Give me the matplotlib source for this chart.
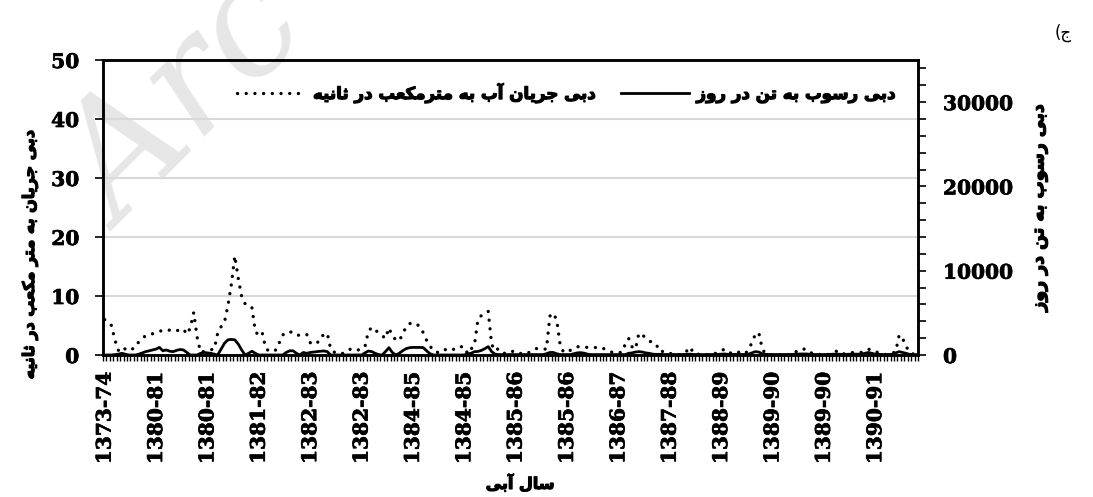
import matplotlib
matplotlib.use('Agg')
import matplotlib.pyplot as plt
import matplotlib.patheffects as pe
from matplotlib.ticker import MultipleLocator, FixedLocator


# flow (m3/s), left axis - one value per sample
flow = [
    6.0, 5.5, 5.0, 2.5, 0.8, 1.4, 1.0, 0.7, 1.0, 1.3,
    2.3, 2.8, 3.3, 3.5, 3.6, 3.8, 4.0, 4.2, 4.3, 4.2,
    4.0, 4.1, 4.3, 4.4, 3.5, 4.6, 7.2, 3.0, 0.5, 0.6,
    0.8, 0.9, 1.0, 3.7, 4.8, 5.6, 8.4, 12.0, 16.8, 13.0,
    9.9, 8.7, 8.6, 8.0, 4.0, 3.3, 3.8, 1.2, 0.6, 0.7,
    0.85, 2.1, 3.4, 3.8, 4.0, 3.7, 3.3, 3.4, 3.5, 3.5,
    2.1, 1.9, 1.9, 3.1, 3.4, 3.7, 1.0, 0.5, 0.2, 0.25,
    0.3, 0.7, 1.1, 1.0, 0.85, 1.1, 1.4, 4.0, 4.7, 4.2,
    3.8, 3.3, 2.8, 4.6, 3.2, 2.6, 2.4, 3.5, 4.8, 5.3,
    5.5, 5.2, 4.9, 3.8, 2.5, 1.5, 0.8, 0.4, 0.7, 1.0,
    0.8, 0.7, 1.0, 1.4, 1.4, 1.4, 0.2, 1.0, 1.8, 6.0,
    6.7, 7.0, 7.4, 1.8, 0.7, 1.1, 0.6, 0.2, 0.4, 0.6,
    0.7, 0.4, 0.1, 0.3, 0.45, 0.8, 1.1, 1.0, 1.0, 1.0,
    6.6, 7.1, 5.9, 1.75, 0.45, 0.6, 0.8, 1.1, 1.4, 1.4,
    1.3, 1.3, 1.3, 1.25, 1.3, 1.3, 1.0, 0.7, 0.5, 0.3,
    0.4, 0.45, 1.8, 2.8, 1.4, 1.0, 3.7, 3.4, 2.9, 2.4,
    2.1, 1.9, 0.6, 0.6, 0.6, 0.3, 0.1, 0.05, 0.0, 0.3,
    0.7, 1.35, 0.2, 0.15, 0.1, 0.05, 0.0, 0.0, 0.2, 0.45,
    0.7, 1.0, 0.5, 0.3, 0.6, 0.5, 0.3, 0.2, 0.9, 2.1,
    3.5, 3.8, 1.1, 0.1, 0.05, 0.05, 0.05, 0.05, 0.05, 0.05,
    0.05, 0.3, 0.6, 1.0, 1.0, 1.0, 0.5, 0.1, 0.1, 0.1,
    0.05, 0.05, 0.2, 0.5, 0.7, 0.2, 0.2, 0.35, 0.4, 0.45,
    0.45, 0.45, 0.7, 1.0, 0.8, 0.7, 0.3, 0.1, 0.1, 0.1,
    0.3, 0.6, 3.4, 2.8, 1.5, 0.45, 0.2, 0.0,
]

# sediment (ton/day), right axis
sediment = [
    0, 0, 0, 50, 100, 200, 100, 0, 0, 0,
    100, 250, 400, 500, 600, 700, 900, 500, 600, 450,
    400, 550, 650, 600, 300, 0, 0, 0, 200, 300,
    250, 200, 100, 0, 700, 1400, 1800, 1850, 1800, 1300,
    600, 0, 200, 450, 200, 0, 0, 0, 0, 0,
    0, 0, 0, 300, 500, 500, 200, 0, 300, 200,
    300, 350, 400, 450, 480, 400, 0, 0, 0, 0,
    0, 0, 0, 0, 0, 0, 250, 470, 400, 200,
    50, 0, 400, 870, 300, 0, 200, 500, 750, 870,
    900, 900, 900, 880, 500, 150, 0, 0, 0, 0,
    0, 0, 0, 0, 0, 0, 150, 200, 400, 420,
    550, 750, 1000, 400, 100, 50, 50, 50, 50, 50,
    50, 50, 50, 50, 50, 50, 50, 50, 50, 150,
    300, 300, 150, 50, 50, 50, 50, 150, 250, 280,
    220, 100, 50, 50, 50, 50, 50, 50, 50, 50,
    50, 50, 50, 200, 250, 350, 400, 350, 250, 200,
    100, 80, 80, 60, 60, 60, 50, 50, 50, 60,
    80, 100, 60, 50, 50, 50, 50, 50, 60, 80,
    100, 120, 80, 60, 80, 80, 60, 60, 100, 250,
    400, 350, 150, 80, 60, 60, 60, 60, 60, 60,
    60, 80, 100, 120, 120, 120, 80, 60, 60, 60,
    60, 60, 80, 100, 100, 80, 80, 80, 100, 100,
    100, 100, 200, 300, 200, 100, 80, 60, 60, 60,
    80, 250, 400, 300, 200, 80, 50, 50,
]

year_labels = ['1373-74', '1380-81', '1380-81', '1381-82', '1382-83', '1382-83',
               '1384-85', '1384-85', '1385-86', '1385-86', '1386-87', '1387-88',
               '1388-89', '1389-90', '1389-90', '1390-91']
label_step = 15

title_corner = 'ج)'
flow_label = 'دبی جریان آب به مترمکعب در ثانیه'
sediment_label = 'دبی رسوب به تن در روز'
left_ylabel = 'دبی جریان به متر مکعب در ثانیه'
right_ylabel = 'دبی رسوب به تن در روز'
xlabel = 'سال آبی'
watermark = 'Arc'


# matplotlib has no arabic shaping, so pick presentation forms by hand
# (isolated, final, initial, medial); None = letter does not join forward
FORMS = {
    'ا': ('\uFE8D', '\uFE8E', None, None),
    'آ': ('\uFE81', '\uFE82', None, None),
    'ب': ('\uFE8F', '\uFE90', '\uFE91', '\uFE92'),
    'ت': ('\uFE95', '\uFE96', '\uFE97', '\uFE98'),
    'ث': ('\uFE99', '\uFE9A', '\uFE9B', '\uFE9C'),
    'ج': ('\uFE9D', '\uFE9E', '\uFE9F', '\uFEA0'),
    'د': ('\uFEA9', '\uFEAA', None, None),
    'ر': ('\uFEAD', '\uFEAE', None, None),
    'ز': ('\uFEAF', '\uFEB0', None, None),
    'س': ('\uFEB1', '\uFEB2', '\uFEB3', '\uFEB4'),
    'ع': ('\uFEC9', '\uFECA', '\uFECB', '\uFECC'),
    'ک': ('\uFB8E', '\uFB8F', '\uFB90', '\uFB91'),
    'ل': ('\uFEDD', '\uFEDE', '\uFEDF', '\uFEE0'),
    'م': ('\uFEE1', '\uFEE2', '\uFEE3', '\uFEE4'),
    'ن': ('\uFEE5', '\uFEE6', '\uFEE7', '\uFEE8'),
    'ه': ('\uFEE9', '\uFEEA', '\uFEEB', '\uFEEC'),
    'و': ('\uFEED', '\uFEEE', None, None),
    'ی': ('\uFBFC', '\uFBFD', '\uFBFE', '\uFBFF'),
}


def rtl(text):
    out = []
    for k, c in enumerate(text):
        if c not in FORMS:
            out.append(c)
            continue
        prev = text[k - 1] if k > 0 else None
        nxt = text[k + 1] if k + 1 < len(text) else None
        join_prev = prev in FORMS and FORMS[prev][2] is not None
        join_next = nxt in FORMS and FORMS[c][2] is not None
        iso, fin, ini, med = FORMS[c]
        if join_prev and join_next:
            out.append(med)
        elif join_prev:
            out.append(fin)
        elif join_next:
            out.append(ini)
        else:
            out.append(iso)
    mirror = {'(': ')', ')': '('}
    return ''.join(mirror.get(c, c) for c in reversed(out))


fa_font = ['DejaVu Sans', 'Noto Sans']
num_font = 'DejaVu Serif'
heavy = [pe.withStroke(linewidth=0.9, foreground='black')]

x = list(range(len(flow)))

fig = plt.figure(figsize=(10.93, 4.97), dpi=100)
fig.patch.set_facecolor('white')

# faint watermark behind everything
fig.text(0.112, 0.535, watermark, rotation=45, rotation_mode='anchor', fontsize=112,
         family='DejaVu Serif', style='italic', color='#e6e6e6', zorder=-1,
         ha='left', va='baseline')

ax = fig.add_axes([0.0942, 0.2857, 0.7457, 0.5936])
ax.patch.set_alpha(0)
ax2 = ax.twinx()
ax2.patch.set_alpha(0)

ax.plot(x, flow, color='black', linewidth=2.4, linestyle=(0, (0.01, 2.6)),
        dash_capstyle='round', label=rtl(flow_label))
ax2.plot(x, sediment, color='black', linewidth=2.0, label=rtl(sediment_label))

ax.set_xlim(-0.5, len(flow) - 0.5)
ax.set_ylim(0, 50)
ax2.set_ylim(0, 35000)

ax.yaxis.set_major_locator(MultipleLocator(10))
ax.grid(axis='y', color='#d9d9d9', linewidth=1.5)
ax.set_axisbelow(True)

ax2.yaxis.set_major_locator(MultipleLocator(10000))
ax2.yaxis.set_minor_locator(MultipleLocator(2000))

label_pos = [i * label_step for i in range(len(year_labels))]
ax.xaxis.set_major_locator(FixedLocator(label_pos))
ax.set_xticklabels(year_labels, rotation=90)
ax.xaxis.set_minor_locator(FixedLocator([i - 0.5 for i in range(len(flow) + 1)]))

for a in (ax, ax2):
    for s in a.spines.values():
        s.set_linewidth(1.8)
        s.set_color('black')

ax.tick_params(axis='y', which='major', direction='out', length=6, width=1.2, pad=11,
               labelsize=14.5)
ax.tick_params(axis='x', which='major', length=0, pad=12, labelsize=14.5)
ax.tick_params(axis='x', which='minor', direction='out', length=4, width=1.0)
ax2.tick_params(axis='y', which='both', direction='out', length=6, width=1.2, pad=12,
                labelsize=14.5)

for lab in ax.get_xticklabels() + ax.get_yticklabels() + ax2.get_yticklabels():
    lab.set_family(num_font)
    lab.set_fontweight('bold')
    lab.set_path_effects([pe.withStroke(linewidth=0.5, foreground='black')])

ax.set_xlabel(rtl(xlabel), family=fa_font, fontweight='bold', fontsize=11.5,
              path_effects=heavy)
ax.xaxis.set_label_coords(0.512, -0.434)
ax.xaxis.label.set_va('center')

ax.set_ylabel(rtl(left_ylabel), family=fa_font, fontweight='bold', fontsize=11.5,
              path_effects=heavy, va='center')
ax.yaxis.set_label_coords(-0.0896, 0.342)

ax2.set_ylabel(rtl(right_ylabel), family=fa_font, fontweight='bold', fontsize=12.5,
               path_effects=heavy, va='center', rotation=90)
ax2.yaxis.set_label_coords(1.148, 0.498)

h1, l1 = ax.get_legend_handles_labels()
h2, l2 = ax2.get_legend_handles_labels()
leg = ax2.legend(h1 + h2, l1 + l2, ncol=2, loc='center right', bbox_to_anchor=(0.972, 0.888),
                 frameon=False, handlelength=4.1, columnspacing=1.5, handletextpad=0.45,
                 borderpad=0, borderaxespad=0,
                 prop={'family': fa_font, 'weight': 'bold', 'size': 12})
for t in leg.get_texts():
    t.set_path_effects(heavy)

fig.text(0.9725, 0.934, rtl(title_corner), family=fa_font, fontsize=12, ha='center', va='center')

fig.savefig('out.png', dpi=100)
